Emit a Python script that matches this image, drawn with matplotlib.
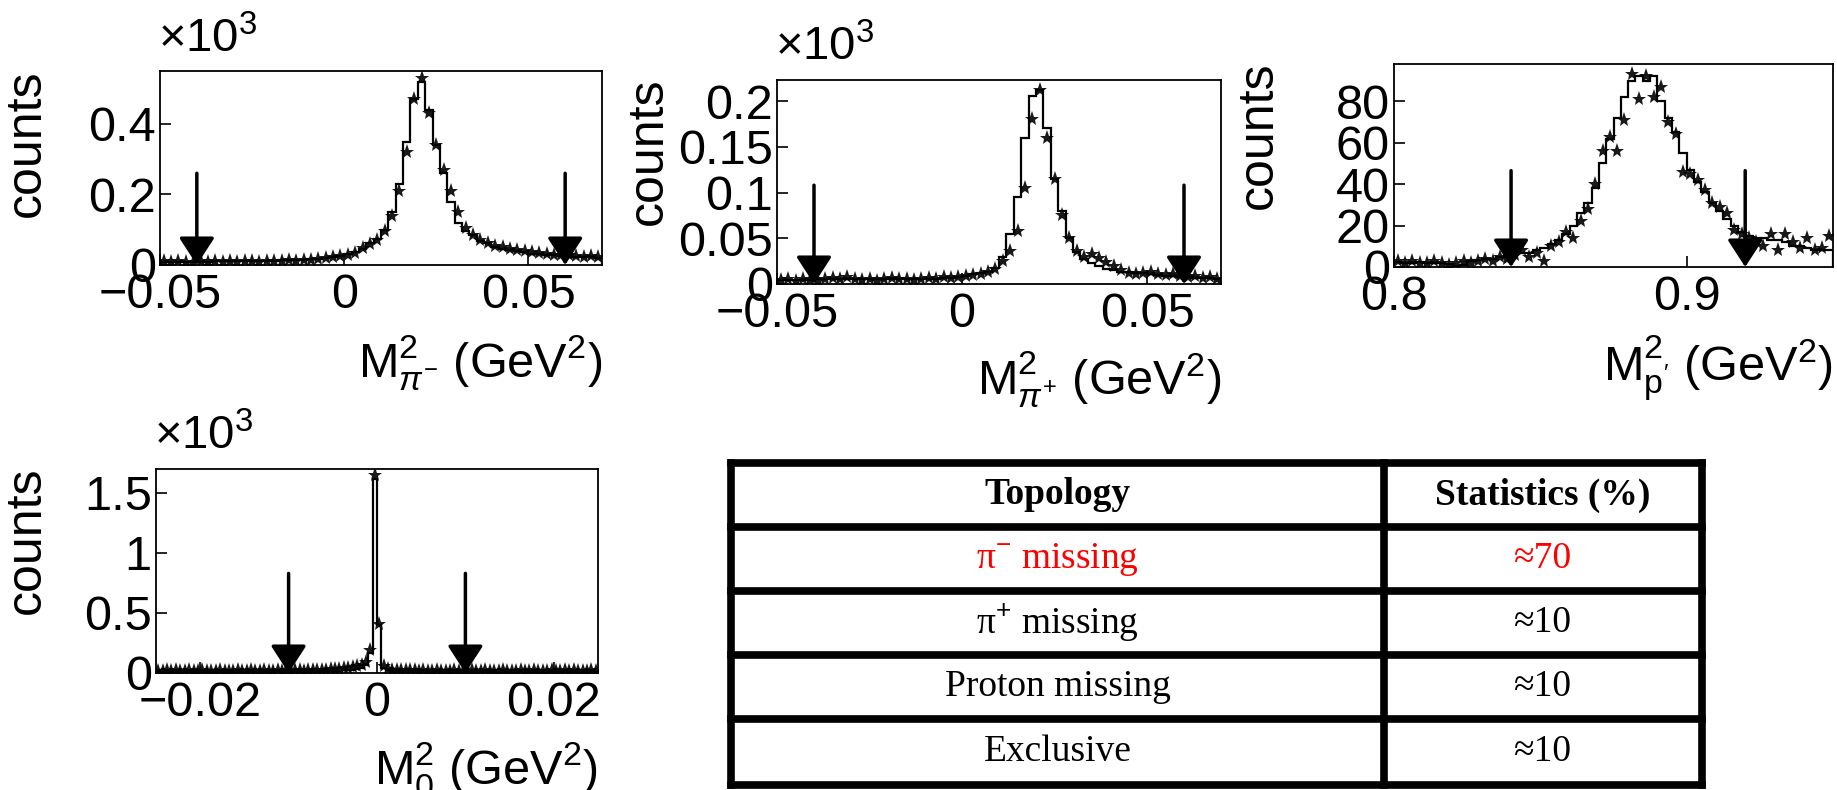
import numpy as np
import matplotlib.pyplot as plt

plt.rcParams['font.family'] = ['Liberation Sans', 'DejaVu Sans']
plt.rcParams['mathtext.fontset'] = 'custom'
plt.rcParams['mathtext.rm'] = 'Liberation Sans'
plt.rcParams['mathtext.it'] = 'Liberation Sans:italic'
plt.rcParams['mathtext.bf'] = 'Liberation Sans:bold'

# --- pi- missing mass (counts x 10^3), 60 bins from -0.05 to 0.07
pim_range = (-0.05, 0.07)
pim_mc = [0.008, 0.008, 0.008, 0.009, 0.009, 0.009, 0.009, 0.010, 0.010, 0.010,
          0.010, 0.011, 0.011, 0.011, 0.012, 0.012, 0.013, 0.013, 0.014, 0.015,
          0.016, 0.018, 0.020, 0.023, 0.026, 0.030, 0.036, 0.045, 0.062, 0.075,
          0.100, 0.150, 0.230, 0.350, 0.470, 0.520, 0.440, 0.340, 0.260, 0.180,
          0.120, 0.095, 0.085, 0.068, 0.062, 0.052, 0.045, 0.043, 0.040, 0.037,
          0.032, 0.030, 0.028, 0.027, 0.026, 0.024, 0.023, 0.022, 0.022, 0.021]
pim_data = [0.010, 0.008, 0.011, 0.009, 0.007, 0.010, 0.009, 0.011, 0.008, 0.010,
            0.009, 0.012, 0.010, 0.009, 0.011, 0.012, 0.010, 0.013, 0.012, 0.014,
            0.015, 0.017, 0.020, 0.022, 0.026, 0.028, 0.033, 0.047, 0.060, 0.072,
            0.095, 0.140, 0.210, 0.320, 0.470, 0.530, 0.430, 0.340, 0.270, 0.210,
            0.150, 0.105, 0.085, 0.070, 0.062, 0.055, 0.050, 0.046, 0.042, 0.040,
            0.036, 0.034, 0.030, 0.029, 0.028, 0.027, 0.025, 0.024, 0.025, 0.023]
pim_cuts = [-0.04, 0.06]

# --- pi+ missing mass (counts x 10^3)
pip_range = (-0.05, 0.07)
pip_mc = [0.004, 0.004, 0.004, 0.004, 0.004, 0.005, 0.005, 0.005, 0.005, 0.005,
          0.005, 0.005, 0.005, 0.005, 0.005, 0.006, 0.006, 0.006, 0.006, 0.006,
          0.006, 0.006, 0.007, 0.007, 0.008, 0.009, 0.011, 0.012, 0.013, 0.018,
          0.030, 0.055, 0.095, 0.160, 0.205, 0.212, 0.170, 0.115, 0.080, 0.050,
          0.035, 0.027, 0.023, 0.020, 0.016, 0.015, 0.013, 0.013, 0.012, 0.012,
          0.011, 0.010, 0.009, 0.009, 0.008, 0.008, 0.007, 0.007, 0.007, 0.006]
pip_data = [0.004, 0.006, 0.003, 0.005, 0.004, 0.003, 0.006, 0.007, 0.005, 0.008,
            0.006, 0.004, 0.005, 0.003, 0.006, 0.007, 0.005, 0.006, 0.004, 0.006,
            0.007, 0.006, 0.008, 0.007, 0.008, 0.009, 0.010, 0.011, 0.013, 0.016,
            0.025, 0.036, 0.058, 0.105, 0.180, 0.212, 0.160, 0.115, 0.075, 0.050,
            0.036, 0.030, 0.033, 0.028, 0.024, 0.020, 0.015, 0.012, 0.011, 0.012,
            0.013, 0.011, 0.010, 0.011, 0.009, 0.008, 0.009, 0.007, 0.008, 0.006]
pip_cuts = [-0.04, 0.06]

# --- proton missing mass (counts)
pro_range = (0.80, 0.95)
pro_mc = [2.5, 2, 2, 2.5, 2, 2, 2, 1.5, 0.5, 1,
          3, 3.5, 4, 4, 5, 6, 6, 7, 7, 8,
          9, 11, 13, 16, 20, 26, 31, 38, 50, 62,
          72, 82, 90, 92, 90, 92, 80, 72, 65, 55,
          47, 41, 36, 31, 27, 23, 20, 17, 15, 14,
          14, 13, 13, 12, 10, 10, 9, 8, 8, 8]
pro_data = [3, 2, 3, 2, 2, 3, 2, 1, 2, 3,
            2, 3, 4, 3, 5, 4, 6, 8, 5, 7,
            3, 10, 12, 17, 14, 22, 28, 40, 56, 63,
            56, 71, 93, 81, 92, 82, 87, 70, 64, 46,
            45, 42, 37, 31, 29, 26, 18, 16, 14, 12,
            10, 16, 8, 16, 12, 9, 14, 8, 9, 15]
pro_cuts = [0.84, 0.92]

# --- exclusive missing mass (counts x 10^3), 100 bins from -0.025 to 0.025
exc_range = (-0.025, 0.025)
exc_mc = [0.012, 0.012, 0.012, 0.012, 0.012, 0.012, 0.012, 0.012, 0.012, 0.012,
          0.012, 0.012, 0.012, 0.012, 0.012, 0.012, 0.012, 0.012, 0.012, 0.012,
          0.012, 0.012, 0.013, 0.013, 0.013, 0.013, 0.013, 0.013, 0.014, 0.014,
          0.014, 0.014, 0.015, 0.015, 0.015, 0.016, 0.016, 0.017, 0.017, 0.018,
          0.019, 0.020, 0.022, 0.025, 0.028, 0.034, 0.045, 0.070, 0.170, 1.620,
          0.400, 0.040, 0.025, 0.020, 0.018, 0.017, 0.016, 0.016, 0.015, 0.015,
          0.015, 0.014, 0.014, 0.014, 0.014, 0.013, 0.013, 0.013, 0.013, 0.013,
          0.012, 0.012, 0.012, 0.012, 0.012, 0.012, 0.012, 0.012, 0.012, 0.012,
          0.012, 0.012, 0.012, 0.012, 0.012, 0.012, 0.012, 0.012, 0.012, 0.012,
          0.012, 0.012, 0.012, 0.012, 0.012, 0.012, 0.012, 0.012, 0.012, 0.012]
exc_data = [0.020, 0.018, 0.022, 0.019, 0.021, 0.017, 0.020, 0.023, 0.019, 0.018,
            0.021, 0.019, 0.017, 0.020, 0.022, 0.018, 0.020, 0.019, 0.021, 0.018,
            0.020, 0.022, 0.019, 0.018, 0.021, 0.020, 0.019, 0.022, 0.020, 0.021,
            0.019, 0.022, 0.021, 0.020, 0.023, 0.022, 0.024, 0.025, 0.027, 0.030,
            0.032, 0.035, 0.038, 0.042, 0.048, 0.055, 0.065, 0.090, 0.190, 1.650,
            0.410, 0.060, 0.035, 0.028, 0.025, 0.024, 0.022, 0.023, 0.021, 0.020,
            0.022, 0.020, 0.019, 0.021, 0.020, 0.018, 0.020, 0.021, 0.019, 0.020,
            0.018, 0.021, 0.020, 0.019, 0.022, 0.020, 0.018, 0.020, 0.021, 0.019,
            0.020, 0.019, 0.021, 0.018, 0.020, 0.022, 0.019, 0.020, 0.018, 0.021,
            0.019, 0.020, 0.022, 0.019, 0.021, 0.018, 0.020, 0.019, 0.021, 0.020]
exc_cuts = [-0.01, 0.01]

# --- table
header = ['Topology', 'Statistics (%)']
topologies = ['π$^{-}$ missing', 'π$^{+}$ missing', 'Proton missing', 'Exclusive']
statistics = ['≈70', '≈10', '≈10', '≈10']
highlight = [True, False, False, False]

W, H = 1837, 790
fig = plt.figure(figsize=(W / 100, H / 100), dpi=100)


def panel(rect, rng, mc, data, cuts, arrow_top, ylim, yticks, ylabels,
          xticks, xlabels, xlabel, scaled, ylab_x, xlab_y):
    ax = fig.add_axes(rect)
    edges = np.linspace(rng[0], rng[1], len(mc) + 1)
    centers = 0.5 * (edges[:-1] + edges[1:])
    ax.stairs(mc, edges, color='k', lw=1.6)
    ax.plot(centers, data, ls='none', marker='*', ms=11, color='k', mew=0,
            alpha=0.9)
    for c in cuts:
        ax.annotate('', xy=(c, 0), xytext=(c, arrow_top),
                    arrowprops=dict(arrowstyle='-|>,head_length=0.85,head_width=0.55',
                                    mutation_scale=20, lw=2.5, color='k',
                                    shrinkA=0, shrinkB=0))
    ax.set_xlim(rng)
    ax.set_ylim(ylim)
    ax.set_yticks(yticks, ylabels)
    ax.set_xticks(xticks, xlabels)
    ax.tick_params(direction='in', length=8, width=1.2, labelsize=35, pad=3)
    ax.tick_params(axis='x', pad=6)
    for s in ax.spines.values():
        s.set_linewidth(1.3)
    ax.set_ylabel('counts', fontsize=36, loc='top')
    ax.yaxis.set_label_coords(ylab_x, 1.01)
    ax.set_xlabel(xlabel, fontsize=35, loc='right', va='top')
    ax.xaxis.set_label_coords(1.0, xlab_y)
    if scaled:
        ax.text(-0.005, 1.045, '×10$^{3}$', transform=ax.transAxes, fontsize=34,
                ha='left', va='bottom')
    return ax


def rect(left, right, top, bottom):
    return [left / W, 1 - bottom / H, (right - left) / W, (bottom - top) / H]


panel(rect(160, 602, 71, 265), pim_range, pim_mc, pim_data, pim_cuts, 0.26,
      (0, 0.55), [0, 0.2, 0.4], ['0', '0.2', '0.4'],
      [-0.05, 0, 0.05], ['\u22120.05', '0', '0.05'],
      r'M$^{2}_{\pi^{-}}$ (GeV$^{2}$)', True, -0.25, -0.35)

panel(rect(777, 1221, 80, 284), pip_range, pip_mc, pip_data, pip_cuts, 0.108,
      (0, 0.223), [0, 0.05, 0.1, 0.15, 0.2], ['0', '0.05', '0.1', '0.15', '0.2'],
      [-0.05, 0, 0.05], ['\u22120.05', '0', '0.05'],
      r'M$^{2}_{\pi^{+}}$ (GeV$^{2}$)', True, -0.236, -0.32)

panel(rect(1394, 1833, 64, 267), pro_range, pro_mc, pro_data, pro_cuts, 46.5,
      (0, 98), [0, 20, 40, 60, 80], ['0', '20', '40', '60', '80'],
      [0.8, 0.9], ['0.8', '0.9'],
      r"M$^{2}_{\mathrm{p'}}$ (GeV$^{2}$)", False, -0.255, -0.325)

panel(rect(156, 598, 469, 673), exc_range, exc_mc, exc_data, exc_cuts, 0.83,
      (0, 1.7), [0, 0.5, 1, 1.5], ['0', '0.5', '1', '1.5'],
      [-0.02, 0, 0.02], ['\u22120.02', '0', '0.02'],
      r'M$^{2}_{0}$ (GeV$^{2}$)', True, -0.239, -0.33)

# table drawn in pixel coordinates of the figure
tab = fig.add_axes([0, 0, 1, 1])
tab.set_xlim(0, W)
tab.set_ylim(H, 0)
tab.axis('off')
col_x = [731, 1384, 1702]
row_y = [463, 527, 591, 655, 719, 785]
tab.hlines(row_y, col_x[0], col_x[-1], color='k', lw=5.5, capstyle='projecting')
tab.vlines(col_x, row_y[0], row_y[-1], color='k', lw=5.5, capstyle='projecting')
cx = [(col_x[0] + col_x[1]) / 2, (col_x[1] + col_x[2]) / 2]
cy = [(row_y[i] + row_y[i + 1]) / 2 for i in range(len(row_y) - 1)]
for j, h in enumerate(header):
    tab.text(cx[j], cy[0], h, ha='center', va='center', fontsize=27,
             family='Liberation Serif', weight='bold')
for i, (t, s) in enumerate(zip(topologies, statistics)):
    col = 'red' if highlight[i] else 'black'
    tab.text(cx[0], cy[i + 1], t, ha='center', va='center', fontsize=27,
             family='Liberation Serif', color=col)
    tab.text(cx[1], cy[i + 1], s, ha='center', va='center', fontsize=27,
             family='Liberation Serif', color=col)

fig.savefig('out.png', dpi=100)
